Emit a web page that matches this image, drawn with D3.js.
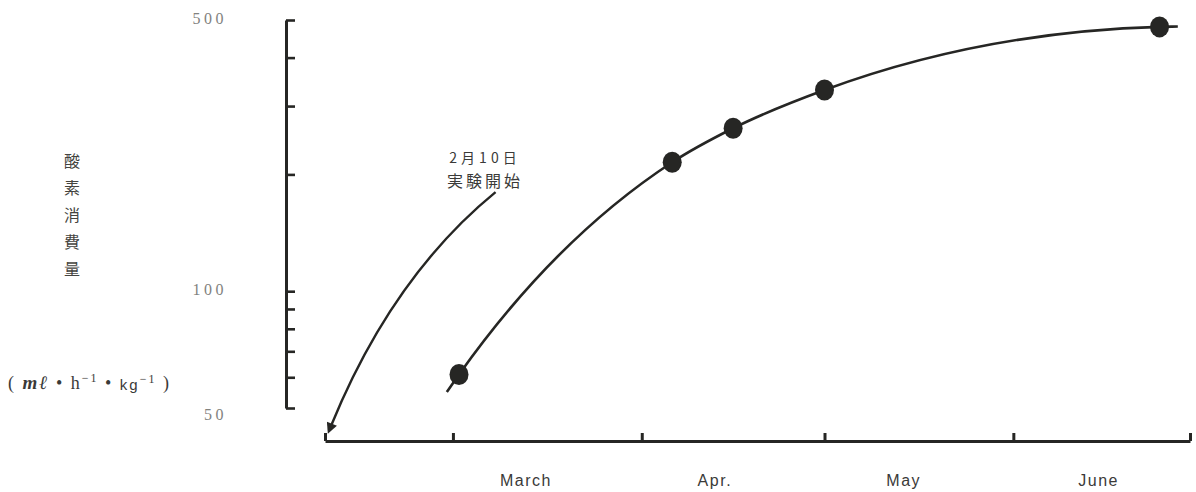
<!DOCTYPE html>
<html>
<head>
<meta charset="utf-8">
<script src="https://cdn.jsdelivr.net/npm/d3@7/dist/d3.min.js"></script>
<style>
  html, body { margin: 0; padding: 0; background: #fff; }
  svg { display: block; }
</style>
</head>
<body>
<svg id="chart" width="1196" height="492"></svg>
<script>
// ---- data ----
const pointDates = ["1983-03-02", "1983-04-06", "1983-04-16", "1983-05-01", "1983-06-25"];
const pointValues = [61, 215, 263, 330, 480];
// short extensions of the fitted curve beyond the first and last points
const tailDates = ["1983-02-28", "1983-06-28"];
const tailValues = [55, 481];
const xDomain = ["1983-02-08", "1983-06-30"];
const xTickDates = ["1983-02-08", "1983-03-01", "1983-04-01", "1983-05-01", "1983-06-01", "1983-06-30"];
const monthLabels = ["March", "Apr.", "May", "June"];
const monthLabelDates = ["1983-03-13", "1983-04-13", "1983-05-14", "1983-06-15"];
const yDomain = [50, 500];
const yTickValues = [50, 60, 70, 80, 90, 100, 200, 300, 400, 500];
const yTickLabels = [50, 100, 500];
const yTitleChars = ["酸", "素", "消", "費", "量"];
// unit "(mℓ・h⁻¹・kg⁻¹)" split into pieces: [text, style]
const yUnitParts = [["( ", "n"], ["mℓ", "i"], [" • h", "n"], ["−1", "s"], [" • ", "b"], ["kg", "k"], ["−1", "s"], [" )", "c"]];
const noteLines = ["2月10日", "実験開始"];
// annotation arrow (start, control, tip) in data space
const arrowDates = ["1983-03-08", "1983-02-19", "1983-02-09"];
const arrowValues = [180, 109, 45];

// ---- scales ----
const parse = d3.timeParse("%Y-%m-%d");
const x = d3.scaleTime().domain(xDomain.map(parse)).range([325, 1190]);
const y = d3.scaleLog().domain(yDomain).range([408, 20]);

const svg = d3.select("#chart");
const ink = "#262624";

// ---- y axis ----
const yAxisX = 286;
const gy = svg.append("g")
  .attr("transform", `translate(${yAxisX},0)`)
  .call(d3.axisRight(y).tickValues(yTickValues).tickSize(9).tickSizeOuter(0).tickFormat(""));
gy.select(".domain").attr("stroke", ink).attr("stroke-width", 3);
gy.selectAll(".tick line").attr("stroke", ink).attr("stroke-width", 2.6);

svg.append("g").selectAll("text")
  .data(yTickLabels)
  .join("text")
  .attr("x", 227)
  .attr("y", d => y(d) + (d === 50 ? 12 : 4))
  .attr("text-anchor", "end")
  .attr("font-family", "Liberation Serif, DejaVu Serif, serif")
  .attr("font-size", 16)
  .attr("letter-spacing", 3.5)
  .attr("fill", "#82827e")
  .text(d => d);

// ---- x axis ----
const xAxisY = 441;
const gx = svg.append("g")
  .attr("transform", `translate(0,${xAxisY})`)
  .call(d3.axisBottom(x).tickValues(xTickDates.map(parse)).tickSize(-8).tickSizeOuter(0).tickFormat(""));
gx.select(".domain").attr("stroke", ink).attr("stroke-width", 3);
gx.selectAll(".tick line").attr("stroke", ink).attr("stroke-width", 3);

svg.append("g").selectAll("text")
  .data(monthLabels)
  .join("text")
  .attr("x", (d, i) => x(parse(monthLabelDates[i])))
  .attr("y", 486)
  .attr("text-anchor", "middle")
  .attr("font-family", "Liberation Sans, Arial, sans-serif")
  .attr("font-size", 16)
  .attr("letter-spacing", 1.5)
  .attr("fill", "#3a3a38")
  .text(d => d);

// ---- y title ----
svg.append("g").selectAll("text")
  .data(yTitleChars)
  .join("text")
  .attr("x", 72)
  .attr("y", (d, i) => 167 + i * 27)
  .attr("text-anchor", "middle")
  .attr("font-family", "Noto Sans CJK JP, sans-serif")
  .attr("font-size", 16)
  .attr("fill", "#444440")
  .text(d => d);

const unit = svg.append("text")
  .attr("x", 8)
  .attr("y", 389)
  .attr("font-family", "Liberation Serif, DejaVu Serif, serif")
  .attr("font-size", 18)
  .attr("letter-spacing", 2)
  .attr("xml:space", "preserve")
  .style("white-space", "pre")
  .attr("fill", "#3a3a38");
yUnitParts.forEach(([t, s]) => {
  const ts = unit.append("tspan").text(t);
  if (s === "i") ts.attr("font-style", "italic").attr("font-weight", "bold").attr("font-size", 19);
  if (s === "s") ts.attr("font-size", 12).attr("dy", -7);
  if (s === "b") ts.attr("dy", 7);
  if (s === "k") ts.attr("font-family", "Liberation Sans, sans-serif").attr("font-size", 15).attr("dy", 1);
  if (s === "c") ts.attr("dy", 6);
});

// ---- fitted curve ----
const curvePts = [{d: parse(tailDates[0]), v: tailValues[0]}]
  .concat(pointDates.map((d, i) => ({d: parse(d), v: pointValues[i]})))
  .concat([{d: parse(tailDates[1]), v: tailValues[1]}]);
const line = d3.line().x(p => x(p.d)).y(p => y(p.v)).curve(d3.curveMonotoneX);
svg.append("path")
  .attr("d", line(curvePts))
  .attr("fill", "none")
  .attr("stroke", ink)
  .attr("stroke-width", 2.6);

svg.append("g").selectAll("ellipse")
  .data(pointDates)
  .join("ellipse")
  .attr("cx", (d, i) => x(parse(d)))
  .attr("cy", (d, i) => y(pointValues[i]))
  .attr("rx", 9.5)
  .attr("ry", 10.5)
  .attr("fill", ink);

// ---- annotation ----
svg.append("g").selectAll("text")
  .data(noteLines)
  .join("text")
  .attr("x", 485)
  .attr("y", (d, i) => 163 + i * 24)
  .attr("text-anchor", "middle")
  .attr("font-family", "Noto Sans CJK JP, sans-serif")
  .attr("font-size", (d, i) => i === 0 ? 14 : 16)
  .attr("letter-spacing", (d, i) => i === 0 ? 4 : 3)
  .attr("fill", "#3a3a38")
  .text(d => d);

svg.append("defs").append("marker")
  .attr("id", "head")
  .attr("viewBox", "0 0 10 10")
  .attr("refX", 2).attr("refY", 5)
  .attr("markerWidth", 6).attr("markerHeight", 4.5)
  .attr("markerUnits", "strokeWidth")
  .attr("orient", "auto")
  .append("path")
  .attr("d", "M0,0 L10,5 L0,10 Z")
  .attr("fill", ink);

const ap = arrowDates.map((d, i) => [x(parse(d)), y(arrowValues[i])]);
const arrowPath = d3.path();
arrowPath.moveTo(ap[0][0], ap[0][1]);
arrowPath.quadraticCurveTo(ap[1][0], ap[1][1], ap[2][0], ap[2][1]);
svg.append("path")
  .attr("d", arrowPath.toString())
  .attr("fill", "none")
  .attr("stroke", ink)
  .attr("stroke-width", 2.4)
  .attr("marker-end", "url(#head)");
</script>
</body>
</html>
